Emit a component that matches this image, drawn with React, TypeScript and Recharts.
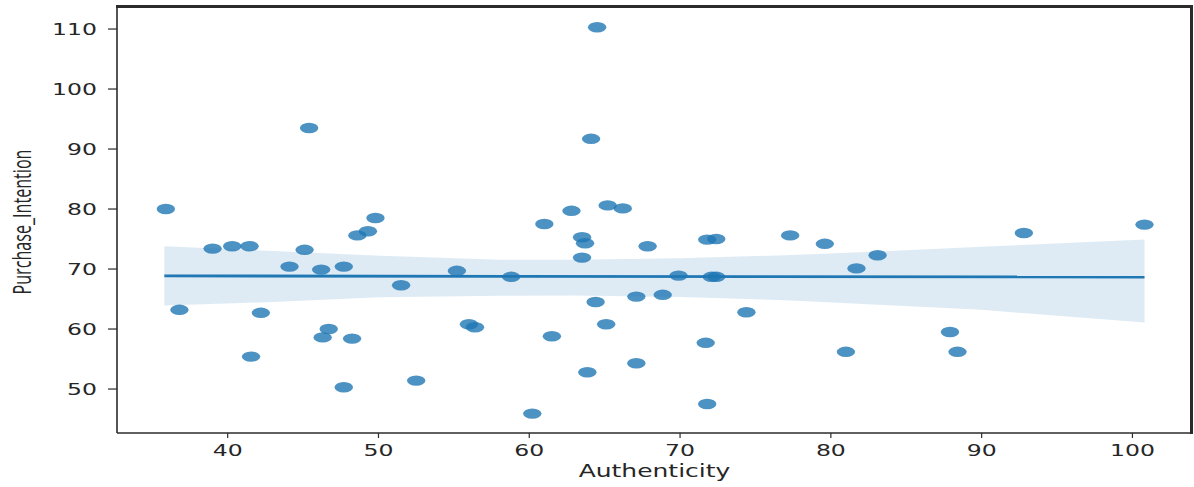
import React from "react";
import {
  ComposedChart,
  Scatter,
  Line,
  Area,
  XAxis,
  YAxis,
} from "recharts";

// Scatter points (Authenticity, Purchase_Intention)
const authenticity = [
  35.9, 36.8, 39.0, 40.3, 41.45, 41.55, 42.2, 44.1, 45.1, 45.4,
  46.2, 46.3, 46.7, 47.7, 47.7, 48.25, 48.6, 49.3, 49.8, 51.5,
  52.5, 55.2, 56.0, 56.4, 58.8, 60.2, 61.0, 61.5, 62.8, 63.5,
  63.7, 63.5, 63.85, 64.1, 64.5, 64.4, 65.1, 65.2, 66.2, 67.1,
  67.1, 67.85, 68.85, 69.9, 71.7, 71.8, 71.8, 72.4, 72.1, 72.4,
  74.4, 77.3, 79.6, 81.0, 81.7, 83.1, 87.9, 88.4, 92.8, 100.8,
];
const purchaseIntention = [
  80.0, 63.2, 73.4, 73.8, 73.8, 55.4, 62.7, 70.4, 73.2, 93.5,
  69.9, 58.6, 60.0, 70.4, 50.3, 58.4, 75.6, 76.3, 78.5, 67.3,
  51.4, 69.7, 60.8, 60.3, 68.7, 45.9, 77.5, 58.8, 79.7, 75.3,
  74.3, 71.9, 52.8, 91.7, 110.3, 64.5, 60.8, 80.6, 80.1, 65.4,
  54.3, 73.8, 65.7, 68.9, 57.7, 47.5, 74.9, 75.0, 68.7, 68.7,
  62.8, 75.6, 74.2, 56.2, 70.1, 72.3, 59.5, 56.2, 76.0, 77.4,
];

// Regression fit line
const fitX = [35.8, 100.8];
const fitY = [68.85, 68.67];

// Confidence band
const bandX = [35.8, 43.0, 50.1, 58.1, 63.0, 70.0, 77.0, 83.2, 90.0, 100.8];
const bandLow = [63.9, 64.5, 65.3, 65.55, 65.6, 65.33, 64.8, 64.05, 63.2, 61.1];
const bandHigh = [73.8, 73.0, 72.2, 71.55, 71.55, 71.8, 72.3, 72.9, 73.7, 74.9];

const xTicks = [40, 50, 60, 70, 80, 90, 100];
const yTicks = [50, 60, 70, 80, 90, 100, 110];

const xDomain = [32.66, 103.95];
const yDomain = [42.67, 113.67];

const scatterData = authenticity.map((x, i) => ({ x, y: purchaseIntention[i] }));
const fitData = fitX.map((x, i) => ({ x, fit: fitY[i] }));
const bandData = bandX.map((x, i) => ({ x, band: [bandLow[i], bandHigh[i]] }));

const STRETCH = 1.47;
const FONT = "'DejaVu Sans', sans-serif";
const TEXT = "#262626";
const C0 = "#1f77b4";
const SPINE = "#2b2b2b";

const XTick = (props: any) => {
  const { x, y, payload } = props;
  return (
    <g transform={`translate(${x},${y})`}>
      <text transform={`scale(${STRETCH},1)`} textAnchor="middle" dy={16} fontSize={16} fontFamily={FONT} fill={TEXT}>
        {payload.value}
      </text>
    </g>
  );
};

const YTick = (props: any) => {
  const { x, y, payload } = props;
  return (
    <g transform={`translate(${x - 9},${y})`}>
      <text transform={`scale(${STRETCH},1)`} textAnchor="end" dy={6} fontSize={16} fontFamily={FONT} fill={TEXT}>
        {payload.value}
      </text>
    </g>
  );
};

const Dot = (props: any) => {
  const { cx, cy } = props;
  if (cx == null || cy == null) return null;
  return <ellipse cx={cx} cy={cy} rx={9.2} ry={5.2} fill={C0} fillOpacity={0.8} />;
};

const XLabel = (props: any) => {
  const vb = props.viewBox || { x: 117, width: 1075 };
  const cx = vb.x + vb.width / 2;
  return (
    <g transform={`translate(${cx},477)`}>
      <text transform={`scale(${STRETCH},1)`} textAnchor="middle" fontSize={17} fontFamily={FONT} fill={TEXT}>
        Authenticity
      </text>
    </g>
  );
};

const YLabel = (props: any) => {
  const vb = props.viewBox || { y: 7, height: 426 };
  const cy = vb.y + vb.height / 2 + 2;
  return (
    <g transform={`translate(31,${cy}) scale(${STRETCH},1) rotate(-90)`}>
      <text textAnchor="middle" fontSize={17} fontFamily="'Open Sans', 'Noto Sans', sans-serif" fill={TEXT} textLength={145} lengthAdjust="spacingAndGlyphs">
        Purchase_Intention
      </text>
    </g>
  );
};

export default function App() {
  return (
    <div style={{ position: "absolute", left: 0, top: 0, width: 1194, height: 487, background: "#fff" }}>
      <ComposedChart width={1194} height={487} margin={{ top: 7, right: 2, bottom: 0, left: 0 }}>
        <XAxis
          dataKey="x" type="number" domain={xDomain} ticks={xTicks} interval={0} allowDataOverflow
          height={54} tickSize={5} tickMargin={2} tick={<XTick />}
          axisLine={{ stroke: SPINE, strokeWidth: 1.6 }} tickLine={{ stroke: SPINE, strokeWidth: 1.2 }}
          label={<XLabel />}
        />
        <YAxis
          type="number" domain={yDomain} ticks={yTicks} interval={0} allowDataOverflow
          width={117} tickSize={9} tickMargin={2} tick={<YTick />}
          axisLine={{ stroke: SPINE, strokeWidth: 1.6 }} tickLine={{ stroke: SPINE, strokeWidth: 1.2 }}
          label={<YLabel />}
        />
        <Scatter data={scatterData} dataKey="y" shape={<Dot />} isAnimationActive={false} />
        <Area data={bandData} dataKey="band" type="linear" stroke="none" fill={C0} fillOpacity={0.15} isAnimationActive={false} activeDot={false} dot={false} />
        <Line data={fitData} dataKey="fit" type="linear" stroke={C0} strokeWidth={2.8} dot={false} activeDot={false} isAnimationActive={false} />
      </ComposedChart>
      {/* top and right spines of the axes frame */}
      <div style={{ position: "absolute", left: 116, top: 5, width: 1077, height: 3, background: SPINE, pointerEvents: "none" }} />
      <div style={{ position: "absolute", left: 1190, top: 5, width: 3, height: 429, background: SPINE, pointerEvents: "none" }} />
    </div>
  );
}
